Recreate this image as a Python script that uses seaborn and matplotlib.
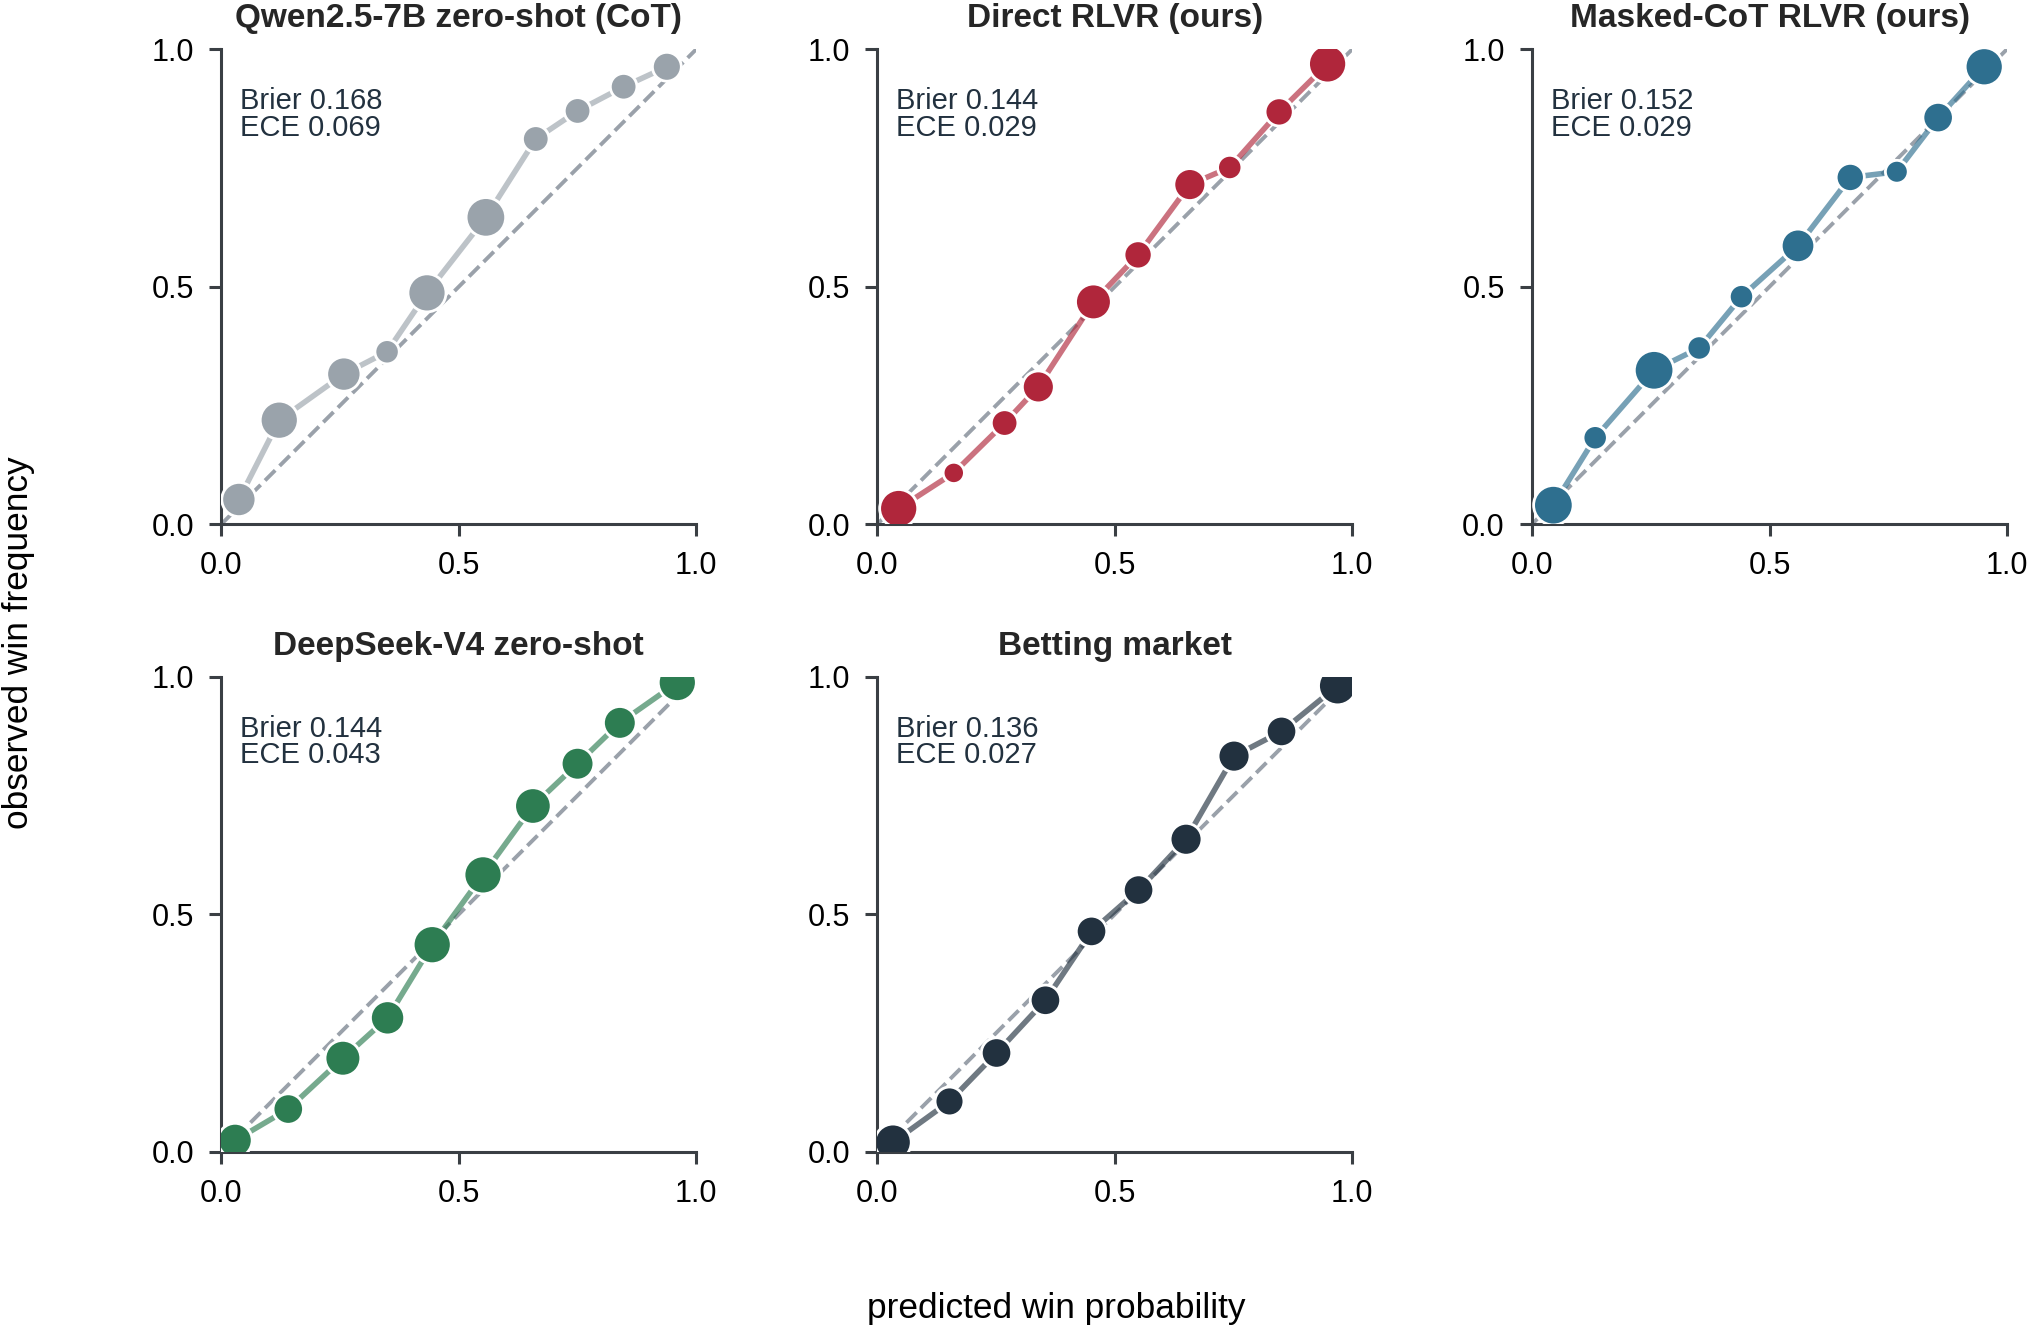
import numpy as np
import pandas as pd
import matplotlib
matplotlib.use("Agg")
import matplotlib.pyplot as plt
import seaborn as sns

# ---------------- data ----------------
titles = ["Qwen2.5-7B zero-shot (CoT)", "Direct RLVR (ours)", "Masked-CoT RLVR (ours)",
          "DeepSeek-V4 zero-shot", "Betting market"]
brier = [0.168, 0.144, 0.152, 0.144, 0.136]
ece = [0.069, 0.029, 0.029, 0.043, 0.027]

qwen_pred = [0.037, 0.122, 0.258, 0.349, 0.433, 0.557, 0.662, 0.750, 0.847, 0.938]
qwen_obs = [0.052, 0.219, 0.316, 0.363, 0.487, 0.646, 0.811, 0.870, 0.921, 0.963]
qwen_n = [202, 250, 202, 102, 250, 270, 122, 122, 122, 144]

direct_pred = [0.045, 0.161, 0.268, 0.339, 0.455, 0.549, 0.658, 0.742, 0.846, 0.948]
direct_obs = [0.033, 0.108, 0.213, 0.289, 0.468, 0.567, 0.715, 0.751, 0.868, 0.969]
direct_n = [250, 78, 122, 176, 221, 137, 176, 102, 137, 250]

masked_pred = [0.045, 0.133, 0.257, 0.352, 0.441, 0.560, 0.670, 0.768, 0.855, 0.952]
masked_obs = [0.040, 0.182, 0.324, 0.371, 0.479, 0.586, 0.730, 0.742, 0.856, 0.963]
masked_n = [270, 102, 270, 102, 102, 194, 137, 90, 160, 250]

deepseek_pred = [0.029, 0.141, 0.256, 0.350, 0.444, 0.551, 0.656, 0.750, 0.839, 0.960]
deepseek_obs = [0.024, 0.090, 0.197, 0.282, 0.436, 0.583, 0.728, 0.817, 0.903, 0.988]
deepseek_n = [202, 160, 221, 202, 250, 250, 230, 185, 185, 250]

market_pred = [0.033, 0.152, 0.251, 0.354, 0.451, 0.550, 0.650, 0.751, 0.851, 0.969]
market_obs = [0.020, 0.106, 0.208, 0.319, 0.464, 0.551, 0.658, 0.833, 0.885, 0.981]
market_n = [230, 144, 160, 160, 160, 160, 176, 176, 160, 250]

preds = [qwen_pred, direct_pred, masked_pred, deepseek_pred, market_pred]
obss = [qwen_obs, direct_obs, masked_obs, deepseek_obs, market_obs]
ns = [qwen_n, direct_n, masked_n, deepseek_n, market_n]

colors = ["#9aa3ab", "#b0263b", "#2e6f8f", "#2d7d52", "#22313f"]
text_color = "#22313f"

# ---------------- style ----------------
sns.set_theme(style="ticks")
plt.rcParams["font.family"] = ["Liberation Sans", "DejaVu Sans"]
plt.rcParams["axes.edgecolor"] = "#3a3f44"
plt.rcParams["axes.linewidth"] = 1.1
plt.rcParams["xtick.color"] = "#3a3f44"
plt.rcParams["ytick.color"] = "#3a3f44"
plt.rcParams["xtick.labelcolor"] = "black"
plt.rcParams["ytick.labelcolor"] = "black"

W, H = 2029, 1326
dpi = 200
fig = plt.figure(figsize=(W / dpi, H / dpi), dpi=dpi)

col_left = [221.3, 877.3, 1532.0]
row_top = [49.2, 676.8]
size_px = 475.0

positions = [(0, 0), (0, 1), (0, 2), (1, 0), (1, 1)]

for i, (r, c) in enumerate(positions):
    left = col_left[c] / W
    bottom = 1 - (row_top[r] + size_px) / H
    ax = fig.add_axes([left, bottom, size_px / W, size_px / H])
    df = pd.DataFrame({"pred": preds[i], "obs": obss[i], "n": ns[i]})

    ax.plot([0, 1], [0, 1], ls="--", color="#9aa1aa", lw=1.4, zorder=1)
    sns.lineplot(data=df, x="pred", y="obs", ax=ax, color=colors[i], alpha=0.65,
                 lw=2.0, sort=False, zorder=2, legend=False)
    sns.scatterplot(data=df, x="pred", y="obs", size="n", sizes=(0, 225),
                    size_norm=(0, 300), ax=ax, color=colors[i], edgecolor="white",
                    linewidth=1.0, zorder=3, legend=False)

    ax.set_xlim(0, 1)
    ax.set_ylim(0, 1)
    ax.set_xticks([0, 0.5, 1.0])
    ax.set_yticks([0, 0.5, 1.0])
    ax.set_xticklabels(["0.0", "0.5", "1.0"])
    ax.set_yticklabels(["0.0", "0.5", "1.0"])
    ax.tick_params(axis="both", labelsize=11, length=4.3, width=1.1, pad=5.5)
    ax.set_xlabel("")
    ax.set_ylabel("")
    sns.despine(ax=ax)
    ax.set_title(titles[i], fontsize=12, fontweight="bold", pad=8)
    ax.text(0.04, 0.92, f"Brier {brier[i]:.3f}\nECE {ece[i]:.3f}",
            transform=ax.transAxes, ha="left", va="top", fontsize=10.5,
            color=text_color, linespacing=0.93)

fig.text(0.5204, 0.0005, "predicted win probability", ha="center", va="bottom",
         fontsize=12.7, color="black")
fig.text(0.009, 0.515, "observed win frequency", ha="center", va="center",
         rotation=90, fontsize=12.7, color="black")

fig.savefig("out.png", dpi=dpi)
